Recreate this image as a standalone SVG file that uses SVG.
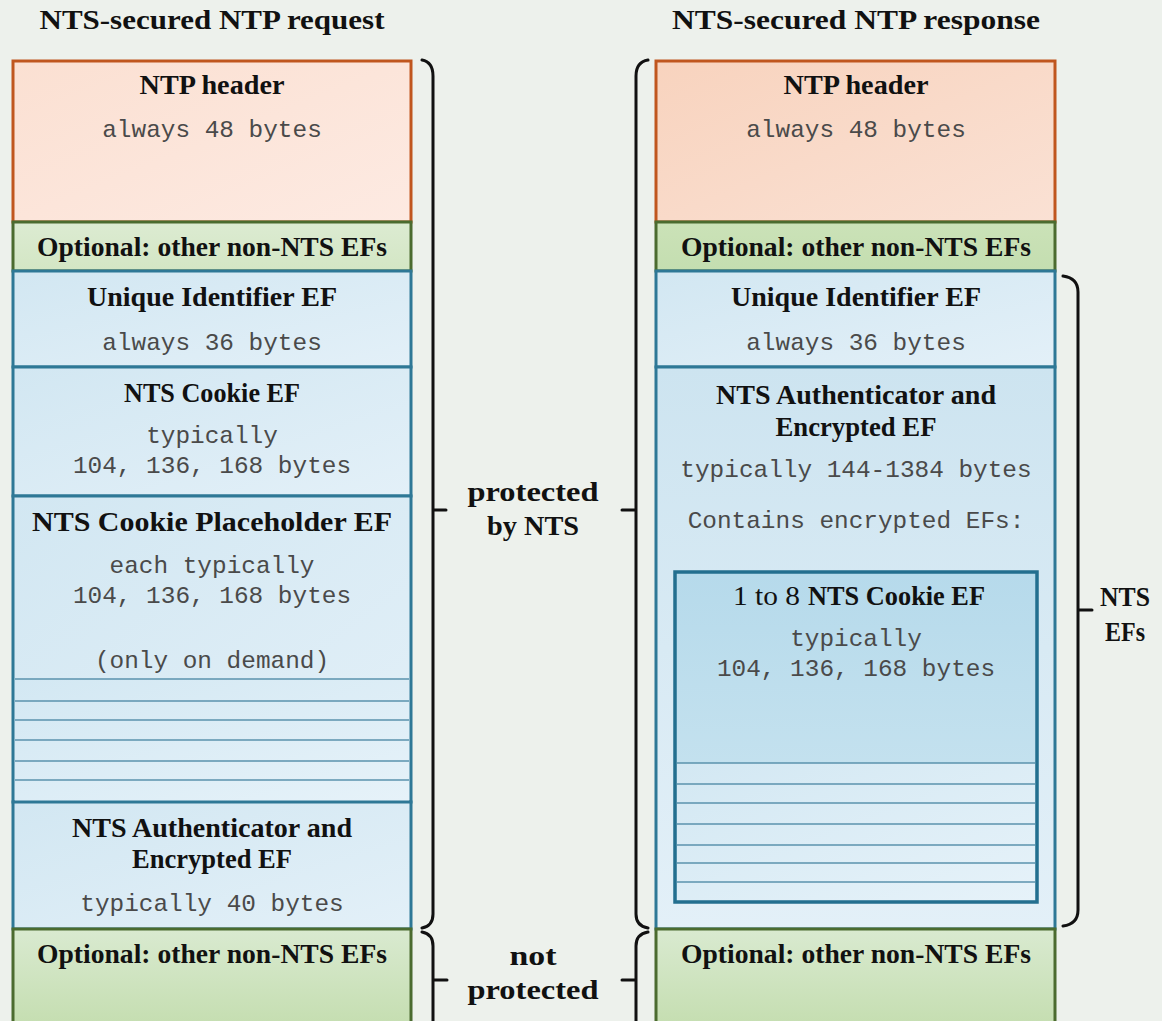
<svg xmlns="http://www.w3.org/2000/svg" width="1162" height="1021" viewBox="0 0 1162 1021">
<defs>
<linearGradient id="peachL" x1="0" y1="0" x2="1" y2="1"><stop offset="0" stop-color="#fbe0d2"/><stop offset="1" stop-color="#fdeae2"/></linearGradient>
<linearGradient id="peachR" x1="0" y1="0" x2="1" y2="1"><stop offset="0" stop-color="#f8d3be"/><stop offset="1" stop-color="#fae1d4"/></linearGradient>
<linearGradient id="greenT" x1="0" y1="0" x2="0" y2="1"><stop offset="0" stop-color="#dcebd2"/><stop offset="1" stop-color="#d3e6c4"/></linearGradient>
<linearGradient id="greenR" x1="0" y1="0" x2="0" y2="1"><stop offset="0" stop-color="#cbe2b8"/><stop offset="1" stop-color="#c4deb0"/></linearGradient>
<linearGradient id="greenB" x1="0" y1="0" x2="0" y2="1"><stop offset="0" stop-color="#d9ead0"/><stop offset="1" stop-color="#c2dcac"/></linearGradient>
<linearGradient id="blue" x1="0" y1="0" x2="1" y2="1"><stop offset="0" stop-color="#d2e7f2"/><stop offset="1" stop-color="#e3f0f8"/></linearGradient>
<linearGradient id="blueV" x1="0" y1="0" x2="0" y2="1"><stop offset="0" stop-color="#cde4f0"/><stop offset="1" stop-color="#e3f0f8"/></linearGradient>
<linearGradient id="inner" x1="0" y1="0" x2="0" y2="1"><stop offset="0" stop-color="#b6daeb"/><stop offset="1" stop-color="#cde6f1"/></linearGradient>
<linearGradient id="stripe" x1="0" y1="0" x2="1" y2="1"><stop offset="0" stop-color="#d3e8f3"/><stop offset="1" stop-color="#e6f2f9"/></linearGradient>
</defs>
<style>
.hd{stroke:#c0561e;stroke-width:3}
.gr{stroke:#4b6b2f;stroke-width:3}
.bl{stroke:#2e7896;stroke-width:3}
.in{stroke:#236f8f;stroke-width:3.5}
.st{stroke:#5b93ad;stroke-width:1.5}
.br{fill:none;stroke:#111;stroke-width:3;stroke-linecap:round}
.t{font-family:"Liberation Serif",serif;font-weight:bold;font-size:27px;fill:#111;text-anchor:middle}
.r{font-family:"Liberation Serif",serif;font-weight:normal;font-size:27px;fill:#111}
.b{font-family:"Liberation Serif",serif;font-weight:bold;font-size:27px;fill:#111}
.m{font-family:"Liberation Mono",monospace;font-size:24.4px;fill:#4a4a4a;text-anchor:middle}
</style>
<rect width="1162" height="1021" fill="#edf1ec"/>

<text class="t" x="212" y="29" textLength="345" lengthAdjust="spacingAndGlyphs">NTS-secured NTP request</text>
<text class="t" x="856" y="29" textLength="368" lengthAdjust="spacingAndGlyphs">NTS-secured NTP response</text>

<g id="req-header"><rect class="hd" x="13" y="61" width="398" height="161" fill="url(#peachL)"/>
<text class="t" x="212" y="94" textLength="145" lengthAdjust="spacingAndGlyphs">NTP header</text>
<text class="m" x="212" y="137">always 48 bytes</text></g>
<g id="req-opt1"><rect class="gr" x="13" y="222" width="398" height="49" fill="url(#greenT)"/>
<text class="t" x="212" y="256" textLength="350" lengthAdjust="spacingAndGlyphs">Optional: other non-NTS EFs</text></g>
<g id="req-uid"><rect class="bl" x="13" y="271" width="398" height="96" fill="url(#blue)"/>
<text class="t" x="212" y="306" textLength="250" lengthAdjust="spacingAndGlyphs">Unique Identifier EF</text>
<text class="m" x="212" y="350">always 36 bytes</text></g>
<g id="req-cookie"><rect class="bl" x="13" y="367" width="398" height="129" fill="url(#blue)"/>
<text class="t" x="212" y="402" textLength="176" lengthAdjust="spacingAndGlyphs">NTS Cookie EF</text>
<text class="m" x="212" y="443">typically</text>
<text class="m" x="212" y="473">104, 136, 168 bytes</text></g>
<g id="req-placeholder"><rect class="bl" x="13" y="496" width="398" height="306" fill="url(#blue)"/>
<rect x="15" y="679" width="394" height="122" fill="url(#stripe)"/>
<path class="st" d="M15,679H409M15,701H409M15,720H409M15,740H409M15,761H409M15,780H409"/>
<text class="t" x="212" y="531" textLength="360" lengthAdjust="spacingAndGlyphs">NTS Cookie Placeholder EF</text>
<text class="m" x="212" y="573">each typically</text>
<text class="m" x="212" y="603">104, 136, 168 bytes</text>
<text class="m" x="212" y="668">(only on demand)</text></g>
<g id="req-auth"><rect class="bl" x="13" y="802" width="398" height="127" fill="url(#blue)"/>
<text class="t" x="212" y="837" textLength="280" lengthAdjust="spacingAndGlyphs">NTS Authenticator and</text>
<text class="t" x="212" y="868" textLength="160" lengthAdjust="spacingAndGlyphs">Encrypted EF</text>
<text class="m" x="212" y="911">typically 40 bytes</text></g>
<g id="req-opt2"><rect class="gr" x="13" y="929" width="398" height="110" fill="url(#greenB)"/>
<text class="t" x="212" y="963" textLength="350" lengthAdjust="spacingAndGlyphs">Optional: other non-NTS EFs</text></g>

<g id="res-header"><rect class="hd" x="656" y="61" width="399" height="161" fill="url(#peachR)"/>
<text class="t" x="856" y="94" textLength="145" lengthAdjust="spacingAndGlyphs">NTP header</text>
<text class="m" x="856" y="137">always 48 bytes</text></g>
<g id="res-opt1"><rect class="gr" x="656" y="222" width="399" height="49" fill="url(#greenR)"/>
<text class="t" x="856" y="256" textLength="350" lengthAdjust="spacingAndGlyphs">Optional: other non-NTS EFs</text></g>
<g id="res-uid"><rect class="bl" x="656" y="271" width="399" height="96" fill="url(#blue)"/>
<text class="t" x="856" y="306" textLength="250" lengthAdjust="spacingAndGlyphs">Unique Identifier EF</text>
<text class="m" x="856" y="350">always 36 bytes</text></g>
<g id="res-auth"><rect class="bl" x="656" y="367" width="399" height="562" fill="url(#blueV)"/>
<text class="t" x="856" y="404" textLength="280" lengthAdjust="spacingAndGlyphs">NTS Authenticator and</text>
<text class="t" x="856" y="436" textLength="161" lengthAdjust="spacingAndGlyphs">Encrypted EF</text>
<text class="m" x="856" y="477">typically 144-1384 bytes</text>
<text class="m" x="856" y="528">Contains encrypted EFs:</text></g>
<g id="res-cookie"><rect class="in" x="675" y="572" width="362" height="330" fill="url(#inner)"/>
<rect x="677" y="763" width="358" height="137" fill="url(#stripe)"/>
<path class="st" d="M677,763H1035M677,784H1035M677,803H1035M677,824H1035M677,845H1035M677,863H1035M677,882H1035"/>
<text class="r" x="733" y="605" textLength="67" lengthAdjust="spacingAndGlyphs">1 to 8</text>
<text class="b" x="808" y="605" textLength="177" lengthAdjust="spacingAndGlyphs">NTS Cookie EF</text>
<text class="m" x="856" y="646">typically</text>
<text class="m" x="856" y="676">104, 136, 168 bytes</text></g>
<g id="res-opt2"><rect class="gr" x="656" y="929" width="399" height="110" fill="url(#greenB)"/>
<text class="t" x="856" y="963" textLength="350" lengthAdjust="spacingAndGlyphs">Optional: other non-NTS EFs</text></g>

<g id="braces">
<path class="br" d="M422,60Q433,62 433,76V914Q433,926 422,928M433,510H446"/>
<path class="br" d="M648,60Q636,62 636,76V914Q636,926 648,928M636,510H622"/>
<path class="br" d="M422,932Q433,934 433,946V1030M433,980H447"/>
<path class="br" d="M648,932Q636,934 636,946V1030M636,980H622"/>
<path class="br" d="M1063,276Q1078,278 1078,292V910Q1078,924 1063,926M1078,610H1092"/>
</g>
<g id="labels">
<text class="t" x="533" y="501" textLength="131" lengthAdjust="spacingAndGlyphs">protected</text>
<text class="t" x="533" y="535" textLength="92" lengthAdjust="spacingAndGlyphs">by NTS</text>
<text class="t" x="533" y="965" textLength="47" lengthAdjust="spacingAndGlyphs">not</text>
<text class="t" x="533" y="999" textLength="131" lengthAdjust="spacingAndGlyphs">protected</text>
<text class="t" x="1125" y="606" textLength="50" lengthAdjust="spacingAndGlyphs">NTS</text>
<text class="t" x="1125" y="641" textLength="40" lengthAdjust="spacingAndGlyphs">EFs</text>
</g>
</svg>
